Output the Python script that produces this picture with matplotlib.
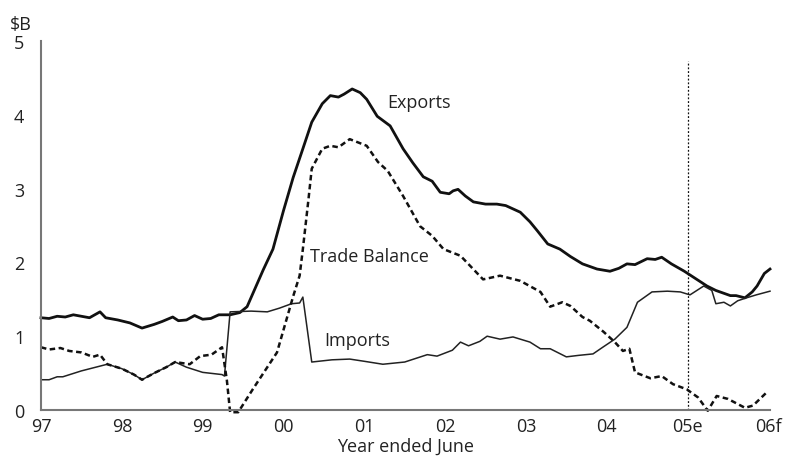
import matplotlib
matplotlib.use("Agg")
import matplotlib.pyplot as plt
import numpy as np

plt.rcParams['font.family'] = ['Open Sans', 'DejaVu Sans']

# years after June 1997
exp_x = [0.0, 0.1, 0.2, 0.3, 0.4, 0.5, 0.6, 0.73, 0.8, 0.95, 1.1, 1.25, 1.4, 1.5, 1.63, 1.7, 1.8,
         1.9, 2.0, 2.1, 2.2, 2.34, 2.46, 2.55, 2.65, 2.75, 2.87, 3.0, 3.12, 3.24, 3.35, 3.48, 3.58,
         3.68, 3.75, 3.85, 3.95, 4.03, 4.16, 4.32, 4.48, 4.6, 4.73, 4.84, 4.94, 5.05, 5.1, 5.16,
         5.25, 5.35, 5.5, 5.64, 5.75, 5.93, 6.05, 6.14, 6.27, 6.42, 6.55, 6.7, 6.88, 7.04, 7.15,
         7.25, 7.35, 7.5, 7.6, 7.68, 7.8, 7.96, 8.1, 8.24, 8.35, 8.53, 8.6, 8.71, 8.8, 8.86, 8.95, 9.02]
exports = [1.25, 1.24, 1.27, 1.26, 1.29, 1.27, 1.25, 1.33, 1.25, 1.22, 1.18, 1.11, 1.16, 1.2, 1.26,
           1.21, 1.22, 1.28, 1.23, 1.24, 1.29, 1.29, 1.32, 1.4, 1.65, 1.9, 2.18, 2.7, 3.15, 3.54,
           3.9, 4.15, 4.26, 4.24, 4.28, 4.35, 4.3, 4.21, 3.98, 3.85, 3.54, 3.35, 3.16, 3.10, 2.95,
           2.93, 2.97, 2.99, 2.9, 2.82, 2.79, 2.79, 2.77, 2.68, 2.55, 2.43, 2.25, 2.18, 2.08, 1.98,
           1.91, 1.88, 1.92, 1.98, 1.97, 2.05, 2.04, 2.07, 1.98, 1.88, 1.78, 1.68, 1.62, 1.55, 1.55,
           1.52, 1.6, 1.68, 1.85, 1.91]

imp_x = [0.0, 0.1, 0.2, 0.27, 0.5, 0.82, 1.0, 1.15, 1.25, 1.4, 1.55, 1.66, 1.8, 2.0, 2.24, 2.27,
         2.34, 2.6, 2.8, 2.95, 3.1, 3.2, 3.24, 3.35, 3.6, 3.82, 4.0, 4.23, 4.5, 4.78, 4.9, 5.09,
         5.19, 5.29, 5.43, 5.52, 5.68, 5.84, 6.05, 6.18, 6.3, 6.5, 6.65, 6.83, 6.95, 7.1, 7.25,
         7.38, 7.56, 7.75, 7.91, 8.03, 8.2, 8.3, 8.35, 8.45, 8.53, 8.62, 8.73, 8.85, 9.02]
imports = [0.41, 0.41, 0.45, 0.45, 0.53, 0.62, 0.56, 0.48, 0.41, 0.5, 0.58, 0.65, 0.58, 0.51, 0.48,
           0.46, 1.33, 1.34, 1.33, 1.38, 1.44, 1.45, 1.53, 0.65, 0.68, 0.69, 0.66, 0.62, 0.65,
           0.75, 0.73, 0.81, 0.92, 0.87, 0.93, 1.0, 0.96, 0.99, 0.92, 0.83, 0.83, 0.72, 0.74, 0.76,
           0.85, 0.96, 1.12, 1.46, 1.60, 1.61, 1.60, 1.56, 1.68, 1.62, 1.44, 1.46, 1.41, 1.48,
           1.52, 1.56, 1.61]

bal_x = [0.0, 0.1, 0.24, 0.35, 0.5, 0.64, 0.73, 0.82, 1.0, 1.15, 1.25, 1.4, 1.55, 1.66, 1.84, 1.97,
         2.11, 2.24, 2.3, 2.34, 2.44, 2.62, 2.92, 3.12, 3.2, 3.24, 3.31, 3.35, 3.48, 3.58, 3.68,
         3.82, 4.03, 4.17, 4.29, 4.48, 4.69, 4.84, 4.98, 5.19, 5.47, 5.68, 5.93, 6.18, 6.3, 6.45,
         6.55, 6.7, 6.79, 6.96, 7.1, 7.2, 7.28, 7.35, 7.54, 7.68, 7.82, 7.99, 8.13, 8.25, 8.36,
         8.5, 8.71, 8.81, 8.98]
balance = [0.85, 0.82, 0.84, 0.80, 0.78, 0.72, 0.75, 0.62, 0.56, 0.48, 0.41, 0.5, 0.58, 0.65, 0.62,
           0.73, 0.75, 0.85, 0.4, -0.03, -0.03, 0.28, 0.78, 1.54, 1.82, 2.18, 2.86, 3.27, 3.54,
           3.58, 3.56, 3.67, 3.58, 3.36, 3.24, 2.90, 2.49, 2.36, 2.18, 2.09, 1.77, 1.82, 1.75,
           1.60, 1.40, 1.46, 1.41, 1.26, 1.21, 1.06, 0.92, 0.80, 0.83, 0.51, 0.43, 0.46, 0.35,
           0.28, 0.17, -0.01, 0.19, 0.15, 0.03, 0.06, 0.24]

tick_labels = ['97', '98', '99', '00', '01', '02', '03', '04', '05e', '06f']

fig = plt.figure(figsize=(7.86, 4.64), dpi=100)
ax = fig.add_axes([41 / 786, 1 - 411 / 464, 729 / 786, 369 / 464])

ax.plot(exp_x, exports, color='#111111', lw=2.0, clip_on=False)
ax.plot(imp_x, imports, color='#222222', lw=1.1, clip_on=False)
ax.plot(bal_x, balance, color='#111111', lw=1.8, ls=(0, (2.2, 1.4)), clip_on=False)
ax.plot([8, 8], [0, 4.73], color='#111111', lw=0.9, ls=(0, (1.5, 1.5)))

ax.set_xlim(0, 9.02)
ax.set_ylim(0, 5)
ax.set_xticks(range(10))
ax.set_xticklabels(tick_labels)
ax.set_yticks(range(6))
ax.tick_params(length=0, labelsize=13, colors='#222222')
ax.tick_params(axis='y', pad=12)
ax.tick_params(axis='x', pad=5)
for s in ['top', 'right']:
    ax.spines[s].set_visible(False)
for s in ['left', 'bottom']:
    ax.spines[s].set_color('#777777')
    ax.spines[s].set_linewidth(1.5)

ax.set_xlabel('Year ended June', fontsize=13, color='#222222', labelpad=1)
fig.text(10 / 786, 1 - 25 / 464, r'\$B', fontsize=13, color='#222222', va='center')

ax.text(4.28, 4.18, 'Exports', fontsize=13, color='#222222', va='center')
ax.text(3.33, 2.08, 'Trade Balance', fontsize=13, color='#222222', va='center')
ax.text(3.5, 0.95, 'Imports', fontsize=13, color='#222222', va='center')

fig.savefig('out.png', dpi=100)
